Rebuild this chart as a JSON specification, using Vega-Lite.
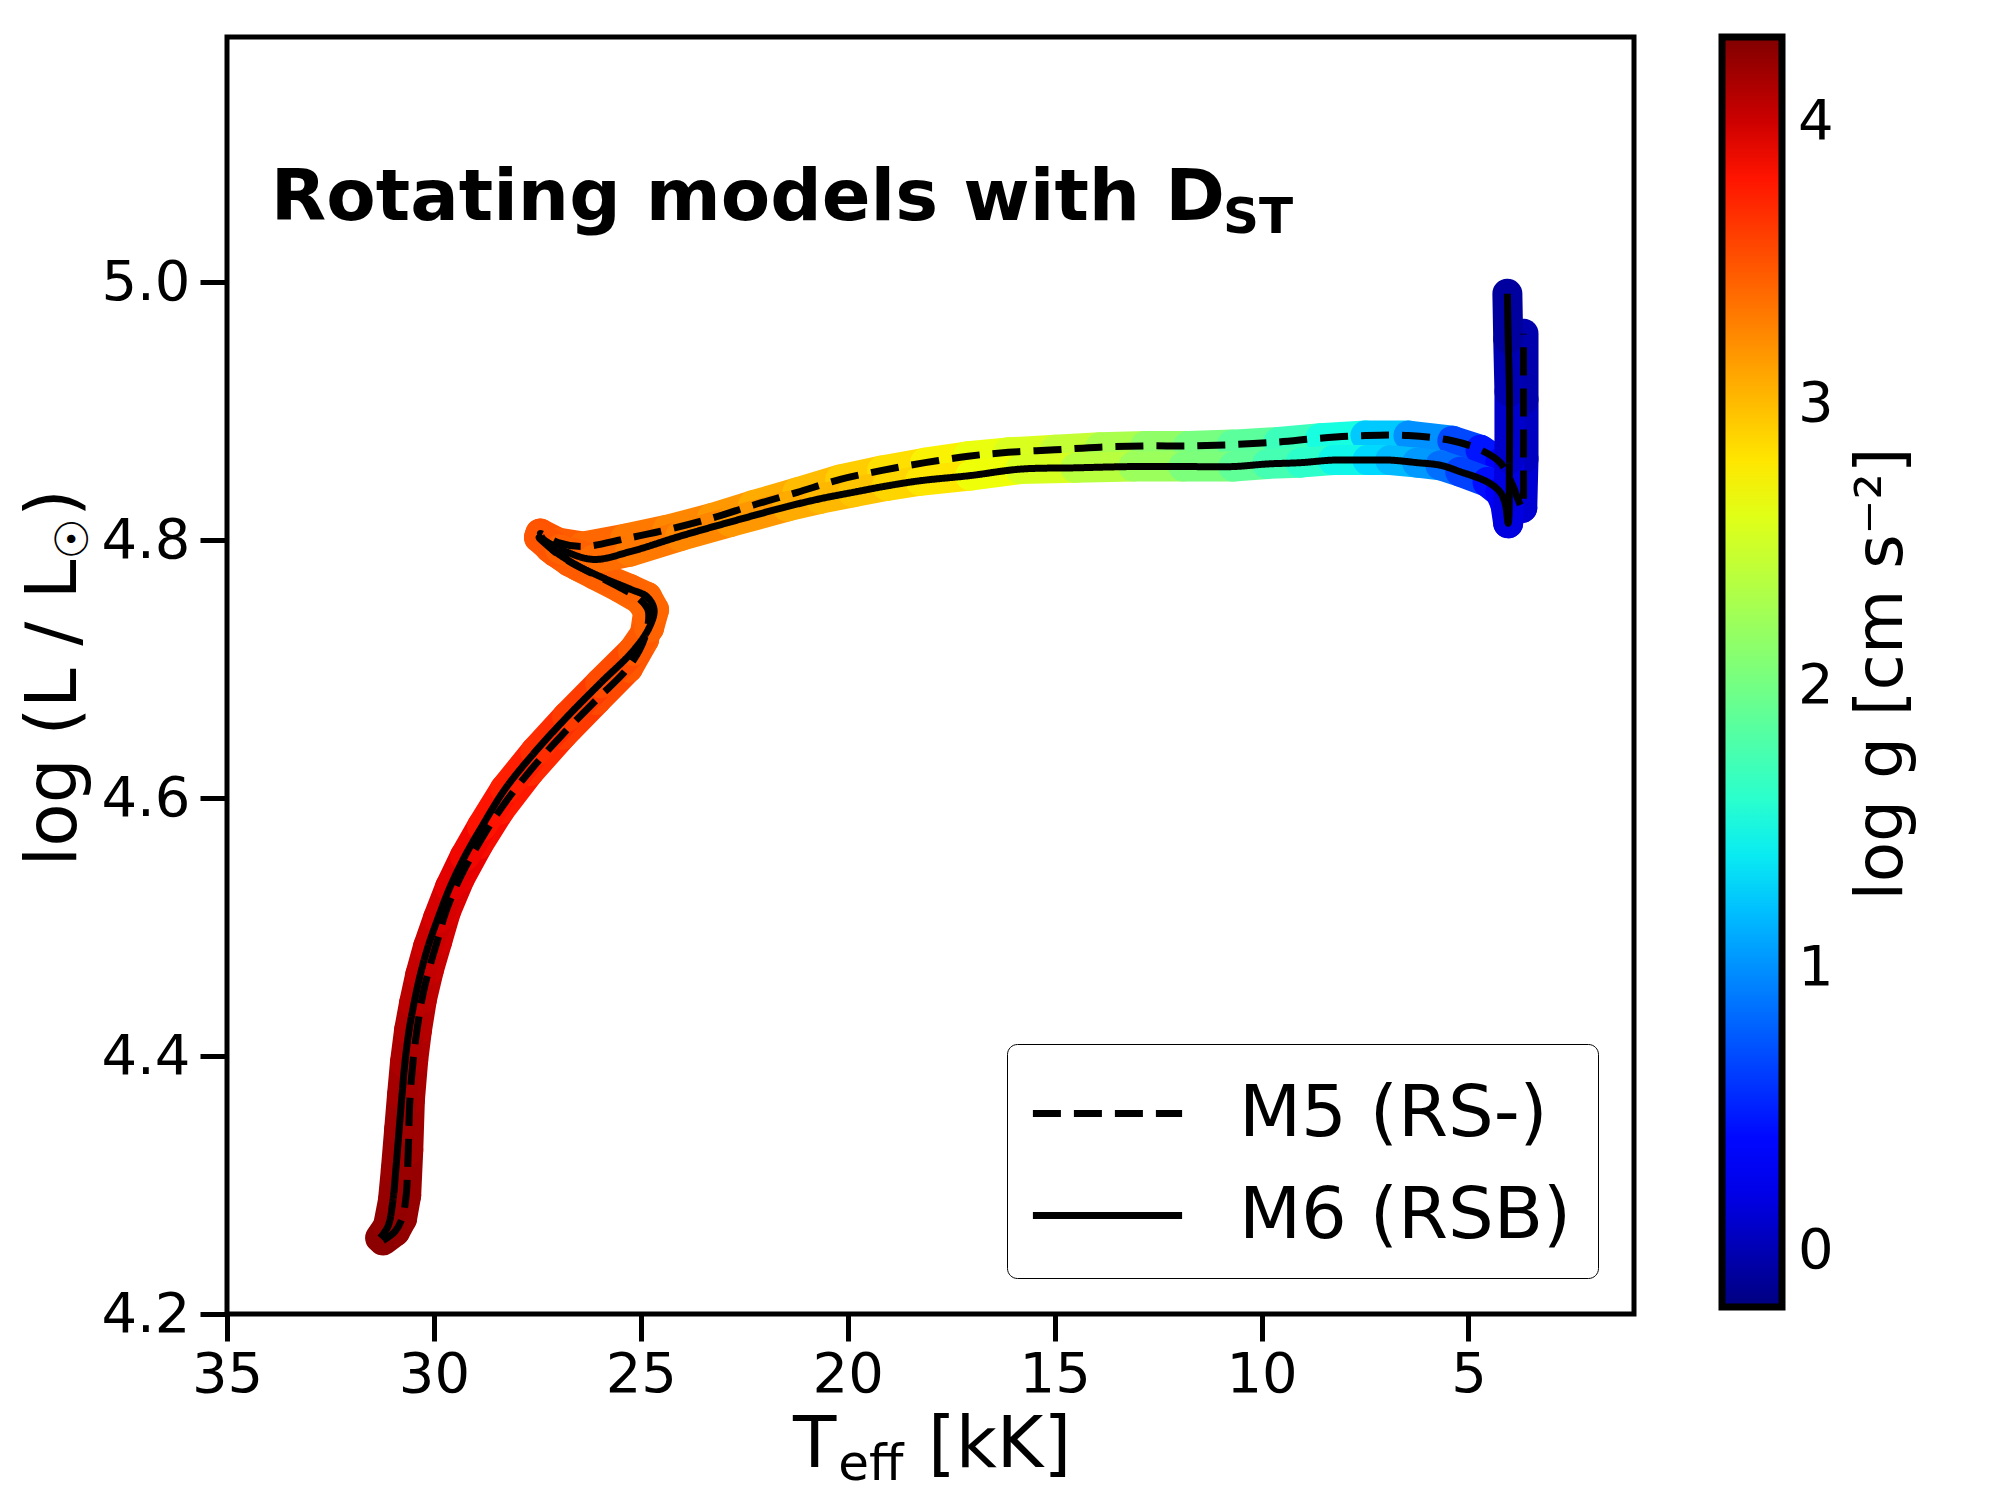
{
  "$schema": "https://vega.github.io/schema/vega-lite/v6.json",
  "width": 1407,
  "height": 1277,
  "autosize": {"type": "none"},
  "padding": {"left": 227, "top": 37, "right": 366, "bottom": 186},
  "background": "white",
  "config": {
    "font": "DejaVu Sans",
    "view": {"stroke": "black", "strokeWidth": 5}
  },
  "datasets": {
    "tracks": [
      {"model": "M5 (RS-)", "i": 1, "T": 31.23, "L": 4.257, "g": 4.25},
      {"model": "M5 (RS-)", "i": 2, "T": 30.94, "L": 4.264, "g": 4.23},
      {"model": "M5 (RS-)", "i": 3, "T": 30.77, "L": 4.274, "g": 4.22},
      {"model": "M5 (RS-)", "i": 4, "T": 30.67, "L": 4.292, "g": 4.21},
      {"model": "M5 (RS-)", "i": 5, "T": 30.62, "L": 4.327, "g": 4.18},
      {"model": "M5 (RS-)", "i": 6, "T": 30.58, "L": 4.366, "g": 4.15},
      {"model": "M5 (RS-)", "i": 7, "T": 30.50, "L": 4.397, "g": 4.12},
      {"model": "M5 (RS-)", "i": 8, "T": 30.41, "L": 4.420, "g": 4.09},
      {"model": "M5 (RS-)", "i": 9, "T": 30.29, "L": 4.444, "g": 4.06},
      {"model": "M5 (RS-)", "i": 10, "T": 30.12, "L": 4.467, "g": 4.02},
      {"model": "M5 (RS-)", "i": 11, "T": 29.92, "L": 4.489, "g": 3.98},
      {"model": "M5 (RS-)", "i": 12, "T": 29.71, "L": 4.512, "g": 3.94},
      {"model": "M5 (RS-)", "i": 13, "T": 29.37, "L": 4.538, "g": 3.89},
      {"model": "M5 (RS-)", "i": 14, "T": 28.93, "L": 4.564, "g": 3.84},
      {"model": "M5 (RS-)", "i": 15, "T": 28.40, "L": 4.591, "g": 3.78},
      {"model": "M5 (RS-)", "i": 16, "T": 27.68, "L": 4.621, "g": 3.70},
      {"model": "M5 (RS-)", "i": 17, "T": 26.90, "L": 4.649, "g": 3.62},
      {"model": "M5 (RS-)", "i": 18, "T": 26.08, "L": 4.676, "g": 3.55},
      {"model": "M5 (RS-)", "i": 19, "T": 25.31, "L": 4.701, "g": 3.48},
      {"model": "M5 (RS-)", "i": 20, "T": 24.92, "L": 4.723, "g": 3.44},
      {"model": "M5 (RS-)", "i": 21, "T": 24.82, "L": 4.745, "g": 3.41},
      {"model": "M5 (RS-)", "i": 22, "T": 25.02, "L": 4.754, "g": 3.41},
      {"model": "M5 (RS-)", "i": 23, "T": 25.50, "L": 4.763, "g": 3.42},
      {"model": "M5 (RS-)", "i": 24, "T": 26.10, "L": 4.773, "g": 3.44},
      {"model": "M5 (RS-)", "i": 25, "T": 26.71, "L": 4.783, "g": 3.46},
      {"model": "M5 (RS-)", "i": 26, "T": 27.19, "L": 4.794, "g": 3.48},
      {"model": "M5 (RS-)", "i": 27, "T": 27.43, "L": 4.805, "g": 3.50},
      {"model": "M5 (RS-)", "i": 28, "T": 27.00, "L": 4.798, "g": 3.46},
      {"model": "M5 (RS-)", "i": 29, "T": 26.39, "L": 4.795, "g": 3.40},
      {"model": "M5 (RS-)", "i": 30, "T": 25.38, "L": 4.801, "g": 3.32},
      {"model": "M5 (RS-)", "i": 31, "T": 24.36, "L": 4.808, "g": 3.25},
      {"model": "M5 (RS-)", "i": 32, "T": 23.28, "L": 4.817, "g": 3.17},
      {"model": "M5 (RS-)", "i": 33, "T": 22.29, "L": 4.827, "g": 3.08},
      {"model": "M5 (RS-)", "i": 34, "T": 21.22, "L": 4.837, "g": 3.00},
      {"model": "M5 (RS-)", "i": 35, "T": 20.18, "L": 4.847, "g": 2.92},
      {"model": "M5 (RS-)", "i": 36, "T": 19.17, "L": 4.854, "g": 2.83},
      {"model": "M5 (RS-)", "i": 37, "T": 18.13, "L": 4.860, "g": 2.74},
      {"model": "M5 (RS-)", "i": 38, "T": 17.09, "L": 4.865, "g": 2.65},
      {"model": "M5 (RS-)", "i": 39, "T": 16.12, "L": 4.868, "g": 2.56},
      {"model": "M5 (RS-)", "i": 40, "T": 14.99, "L": 4.870, "g": 2.44},
      {"model": "M5 (RS-)", "i": 41, "T": 13.90, "L": 4.872, "g": 2.30},
      {"model": "M5 (RS-)", "i": 42, "T": 12.81, "L": 4.873, "g": 2.16},
      {"model": "M5 (RS-)", "i": 43, "T": 11.77, "L": 4.873, "g": 2.02},
      {"model": "M5 (RS-)", "i": 44, "T": 10.71, "L": 4.874, "g": 1.87},
      {"model": "M5 (RS-)", "i": 45, "T": 9.59, "L": 4.876, "g": 1.70},
      {"model": "M5 (RS-)", "i": 46, "T": 8.58, "L": 4.879, "g": 1.50},
      {"model": "M5 (RS-)", "i": 47, "T": 7.49, "L": 4.881, "g": 1.25},
      {"model": "M5 (RS-)", "i": 48, "T": 6.45, "L": 4.881, "g": 1.00},
      {"model": "M5 (RS-)", "i": 49, "T": 5.39, "L": 4.877, "g": 0.68},
      {"model": "M5 (RS-)", "i": 50, "T": 4.71, "L": 4.870, "g": 0.45},
      {"model": "M5 (RS-)", "i": 51, "T": 4.23, "L": 4.860, "g": 0.30},
      {"model": "M5 (RS-)", "i": 52, "T": 3.94, "L": 4.843, "g": 0.20},
      {"model": "M5 (RS-)", "i": 53, "T": 3.77, "L": 4.829, "g": 0.15},
      {"model": "M5 (RS-)", "i": 54, "T": 3.70, "L": 4.825, "g": 0.12},
      {"model": "M5 (RS-)", "i": 55, "T": 3.67, "L": 4.863, "g": 0.05},
      {"model": "M5 (RS-)", "i": 56, "T": 3.67, "L": 4.909, "g": -0.03},
      {"model": "M5 (RS-)", "i": 57, "T": 3.67, "L": 4.960, "g": -0.10},
      {"model": "M6 (RSB)", "i": 1, "T": 31.30, "L": 4.259, "g": 4.25},
      {"model": "M6 (RSB)", "i": 2, "T": 31.11, "L": 4.268, "g": 4.23},
      {"model": "M6 (RSB)", "i": 3, "T": 30.99, "L": 4.288, "g": 4.21},
      {"model": "M6 (RSB)", "i": 4, "T": 30.92, "L": 4.312, "g": 4.20},
      {"model": "M6 (RSB)", "i": 5, "T": 30.84, "L": 4.343, "g": 4.18},
      {"model": "M6 (RSB)", "i": 6, "T": 30.77, "L": 4.370, "g": 4.16},
      {"model": "M6 (RSB)", "i": 7, "T": 30.70, "L": 4.395, "g": 4.13},
      {"model": "M6 (RSB)", "i": 8, "T": 30.60, "L": 4.420, "g": 4.10},
      {"model": "M6 (RSB)", "i": 9, "T": 30.48, "L": 4.441, "g": 4.07},
      {"model": "M6 (RSB)", "i": 10, "T": 30.33, "L": 4.463, "g": 4.03},
      {"model": "M6 (RSB)", "i": 11, "T": 30.14, "L": 4.485, "g": 4.00},
      {"model": "M6 (RSB)", "i": 12, "T": 29.90, "L": 4.507, "g": 3.96},
      {"model": "M6 (RSB)", "i": 13, "T": 29.61, "L": 4.531, "g": 3.91},
      {"model": "M6 (RSB)", "i": 14, "T": 29.25, "L": 4.555, "g": 3.86},
      {"model": "M6 (RSB)", "i": 15, "T": 28.84, "L": 4.578, "g": 3.81},
      {"model": "M6 (RSB)", "i": 16, "T": 28.28, "L": 4.607, "g": 3.75},
      {"model": "M6 (RSB)", "i": 17, "T": 27.55, "L": 4.636, "g": 3.68},
      {"model": "M6 (RSB)", "i": 18, "T": 26.78, "L": 4.663, "g": 3.61},
      {"model": "M6 (RSB)", "i": 19, "T": 25.98, "L": 4.689, "g": 3.54},
      {"model": "M6 (RSB)", "i": 20, "T": 25.19, "L": 4.714, "g": 3.47},
      {"model": "M6 (RSB)", "i": 21, "T": 24.80, "L": 4.732, "g": 3.43},
      {"model": "M6 (RSB)", "i": 22, "T": 24.68, "L": 4.746, "g": 3.41},
      {"model": "M6 (RSB)", "i": 23, "T": 24.85, "L": 4.756, "g": 3.41},
      {"model": "M6 (RSB)", "i": 24, "T": 25.26, "L": 4.762, "g": 3.42},
      {"model": "M6 (RSB)", "i": 25, "T": 25.86, "L": 4.770, "g": 3.44},
      {"model": "M6 (RSB)", "i": 26, "T": 26.52, "L": 4.780, "g": 3.46},
      {"model": "M6 (RSB)", "i": 27, "T": 27.07, "L": 4.791, "g": 3.48},
      {"model": "M6 (RSB)", "i": 28, "T": 27.46, "L": 4.802, "g": 3.49},
      {"model": "M6 (RSB)", "i": 29, "T": 26.95, "L": 4.793, "g": 3.44},
      {"model": "M6 (RSB)", "i": 30, "T": 26.15, "L": 4.785, "g": 3.38},
      {"model": "M6 (RSB)", "i": 31, "T": 25.26, "L": 4.791, "g": 3.32},
      {"model": "M6 (RSB)", "i": 32, "T": 24.05, "L": 4.803, "g": 3.25},
      {"model": "M6 (RSB)", "i": 33, "T": 22.84, "L": 4.814, "g": 3.17},
      {"model": "M6 (RSB)", "i": 34, "T": 21.46, "L": 4.826, "g": 3.08},
      {"model": "M6 (RSB)", "i": 35, "T": 20.67, "L": 4.832, "g": 3.02},
      {"model": "M6 (RSB)", "i": 36, "T": 19.87, "L": 4.837, "g": 2.96},
      {"model": "M6 (RSB)", "i": 37, "T": 19.05, "L": 4.842, "g": 2.88},
      {"model": "M6 (RSB)", "i": 38, "T": 18.25, "L": 4.846, "g": 2.80},
      {"model": "M6 (RSB)", "i": 39, "T": 17.04, "L": 4.850, "g": 2.68},
      {"model": "M6 (RSB)", "i": 40, "T": 15.83, "L": 4.855, "g": 2.55},
      {"model": "M6 (RSB)", "i": 41, "T": 14.50, "L": 4.856, "g": 2.38},
      {"model": "M6 (RSB)", "i": 42, "T": 13.10, "L": 4.857, "g": 2.22},
      {"model": "M6 (RSB)", "i": 43, "T": 11.89, "L": 4.857, "g": 2.05},
      {"model": "M6 (RSB)", "i": 44, "T": 10.68, "L": 4.857, "g": 1.90},
      {"model": "M6 (RSB)", "i": 45, "T": 9.86, "L": 4.859, "g": 1.75},
      {"model": "M6 (RSB)", "i": 46, "T": 9.06, "L": 4.860, "g": 1.62},
      {"model": "M6 (RSB)", "i": 47, "T": 8.27, "L": 4.862, "g": 1.45},
      {"model": "M6 (RSB)", "i": 48, "T": 7.44, "L": 4.862, "g": 1.32},
      {"model": "M6 (RSB)", "i": 49, "T": 6.89, "L": 4.862, "g": 1.18},
      {"model": "M6 (RSB)", "i": 50, "T": 6.24, "L": 4.860, "g": 1.04},
      {"model": "M6 (RSB)", "i": 51, "T": 5.68, "L": 4.858, "g": 0.85},
      {"model": "M6 (RSB)", "i": 52, "T": 5.20, "L": 4.853, "g": 0.65},
      {"model": "M6 (RSB)", "i": 53, "T": 4.54, "L": 4.845, "g": 0.42},
      {"model": "M6 (RSB)", "i": 54, "T": 4.23, "L": 4.837, "g": 0.32},
      {"model": "M6 (RSB)", "i": 55, "T": 4.11, "L": 4.828, "g": 0.25},
      {"model": "M6 (RSB)", "i": 56, "T": 4.04, "L": 4.813, "g": 0.18},
      {"model": "M6 (RSB)", "i": 57, "T": 4.01, "L": 4.863, "g": 0.10},
      {"model": "M6 (RSB)", "i": 58, "T": 4.01, "L": 4.915, "g": 0.00},
      {"model": "M6 (RSB)", "i": 59, "T": 4.04, "L": 4.956, "g": -0.08},
      {"model": "M6 (RSB)", "i": 60, "T": 4.06, "L": 4.991, "g": -0.15}
    ]
  },
  "layer": [
    {
      "data": {"name": "tracks"},
      "transform": [
        {"window": [{"op": "lead", "field": "T", "as": "T2"}, {"op": "lead", "field": "L", "as": "L2"}], "groupby": ["model"], "sort": [{"field": "i", "order": "ascending"}]},
        {"filter": "isValid(datum.T2)"}
      ],
      "mark": {"type": "rule", "strokeWidth": 30, "strokeCap": "round"},
      "encoding": {
        "x": {"field": "T", "type": "quantitative",
          "scale": {"domain": [1, 35], "reverse": true, "nice": false, "zero": false},
          "axis": {"values": [35, 30, 25, 20, 15, 10, 5], "title": null, "domain": false, "grid": false, "tickSize": 27, "tickWidth": 5, "tickColor": "black", "labelFontSize": 56, "labelColor": "black", "labelPadding": 6, "labelFlush": false, "labelOverlap": false}},
        "y": {"field": "L", "type": "quantitative",
          "scale": {"domain": [4.2, 5.19], "nice": false, "zero": false},
          "axis": {"values": [4.2, 4.4, 4.6, 4.8, 5.0], "format": ".1f", "title": null, "domain": false, "grid": false, "tickSize": 27, "tickWidth": 5, "tickColor": "black", "labelFontSize": 56, "labelColor": "black", "labelPadding": 10, "labelFlush": false, "labelOverlap": false}},
        "x2": {"field": "T2"},
        "y2": {"field": "L2"},
        "color": {"field": "g", "type": "quantitative",
          "scale": {"domain": [-0.2, 0.295, 0.3625, 1.33, 1.4875, 2.68, 2.77, 3.805, 3.895, 4.3],
                    "range": ["#000080", "#0000ff", "#0000ff", "#00dbff", "#15ffe2", "#efff08", "#ffec00", "#ff1300", "#e80000", "#800000"],
                    "interpolate": "rgb"},
          "legend": {"orient": "right", "offset": 88, "direction": "vertical", "padding": 0,
            "gradientLength": 1270, "gradientThickness": 60, "gradientStrokeColor": "black", "gradientStrokeWidth": 7,
            "values": [0, 1, 2, 3, 4], "format": "d", "labelFontSize": 56, "labelColor": "black", "labelOffset": 16,
            "title": "log g [cm s⁻²]", "titleOrient": "right", "titleFontSize": 66, "titleFontWeight": "normal", "titleColor": "black", "titleAnchor": "middle", "titlePadding": 82, "titleLimit": 2000,
            "encode": {"title": {"update": {"angle": {"value": -90}}}}}}
      }
    },
    {
      "data": {"name": "tracks"},
      "mark": {"type": "line", "color": "black", "strokeWidth": 7, "interpolate": "catmull-rom"},
      "encoding": {
        "x": {"field": "T", "type": "quantitative"},
        "y": {"field": "L", "type": "quantitative"},
        "order": {"field": "i", "type": "quantitative"},
        "strokeDash": {"field": "model", "type": "nominal",
          "scale": {"domain": ["M5 (RS-)", "M6 (RSB)"], "range": [[28, 13], [1, 0]]},
          "legend": {"orient": "bottom-right", "offset": 36, "title": null,
            "symbolType": "M-1.09,0H2.64", "symbolSize": 6400, "symbolStrokeColor": "black", "symbolStrokeWidth": 7,
            "labelFontSize": 72, "labelColor": "black", "labelOffset": 119, "labelLimit": 0,
            "strokeColor": "black", "fillColor": "white", "cornerRadius": 10, "padding": 26, "rowPadding": 22}}
      }
    },
    {
      "data": {"values": [{}]},
      "mark": {"type": "text", "align": "left", "baseline": "alphabetic", "fontSize": 72, "fontWeight": "bold", "color": "black", "text": "Rotating models with D"},
      "encoding": {"x": {"datum": 33.94, "type": "quantitative"}, "y": {"datum": 5.048, "type": "quantitative"}}
    },
    {
      "data": {"values": [{}]},
      "mark": {"type": "text", "align": "left", "baseline": "alphabetic", "fontSize": 50, "fontWeight": "bold", "color": "black", "text": "ST"},
      "encoding": {"x": {"datum": 10.93, "type": "quantitative"}, "y": {"datum": 5.038, "type": "quantitative"}}
    },
    {
      "data": {"values": [{}]},
      "mark": {"type": "text", "align": "left", "baseline": "alphabetic", "fontSize": 71, "color": "black", "text": "T"},
      "encoding": {"x": {"datum": 21.32, "type": "quantitative"}, "y": {"datum": 4.081, "type": "quantitative"}}
    },
    {
      "data": {"values": [{}]},
      "mark": {"type": "text", "align": "left", "baseline": "alphabetic", "fontSize": 50, "color": "black", "text": "eff"},
      "encoding": {"x": {"datum": 20.23, "type": "quantitative"}, "y": {"datum": 4.071, "type": "quantitative"}}
    },
    {
      "data": {"values": [{}]},
      "mark": {"type": "text", "align": "left", "baseline": "alphabetic", "fontSize": 71, "color": "black", "text": "[kK]"},
      "encoding": {"x": {"datum": 18.06, "type": "quantitative"}, "y": {"datum": 4.081, "type": "quantitative"}}
    },
    {
      "data": {"values": [{}]},
      "mark": {"type": "text", "align": "left", "baseline": "alphabetic", "angle": 270, "fontSize": 71, "color": "black", "text": "log (L / L"},
      "encoding": {"x": {"datum": 38.65, "type": "quantitative"}, "y": {"datum": 4.547, "type": "quantitative"}}
    },
    {
      "data": {"values": [{}]},
      "mark": {"type": "text", "align": "left", "baseline": "alphabetic", "angle": 270, "fontSize": 46, "color": "black", "text": "☉"},
      "encoding": {"x": {"datum": 38.36, "type": "quantitative"}, "y": {"datum": 4.785, "type": "quantitative"}}
    },
    {
      "data": {"values": [{}]},
      "mark": {"type": "text", "align": "left", "baseline": "alphabetic", "angle": 270, "fontSize": 71, "color": "black", "text": ")"},
      "encoding": {"x": {"datum": 38.65, "type": "quantitative"}, "y": {"datum": 4.818, "type": "quantitative"}}
    }
  ]
}
